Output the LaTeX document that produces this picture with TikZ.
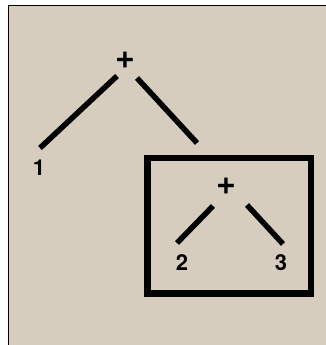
\documentclass[tikz,border=0pt]{standalone}
\usepackage{fontspec}
\setmainfont{TeX Gyre Heros}
\usepackage{tikz}
\definecolor{paper}{RGB}{214,205,190}
\tikzset{x=1pt, y=1pt,
  leaf/.style={font=\fontsize{22}{22}\selectfont\bfseries, inner sep=0pt},
  op/.style={font=\fontsize{34}{34}\selectfont\bfseries, inner sep=0pt},
  branch/.style={line width=5.5pt},
  frame/.style={line width=6.5pt}}

\begin{document}
\begin{tikzpicture}
\useasboundingbox (0,0) rectangle (326,345);
\fill[paper] (8,0) rectangle (326,339);
\draw[line width=1pt] (8,0) -- (8,339) -- (326,339);

\node[op]   (top)   at (125,285) {+};
\node[leaf] (one)   at (39,177)  {1};
\node[op]   (inner) at (226,159) {+};
\node[leaf] (two)   at (182,82)  {2};
\node[leaf] (three) at (281,82)  {3};

% ends of the branches
\coordinate (top-l) at (117,269);
\coordinate (one-t) at (40,197);
\coordinate (top-r) at (137,267);
\coordinate (box-t) at (197,202);
\coordinate (in-l)  at (213,139);
\coordinate (two-t) at (177,102);
\coordinate (in-r)  at (247,140);
\coordinate (three-t) at (283,101);

\draw[branch] (top-l) -- (one-t);
\draw[branch] (top-r) -- (box-t);
\draw[branch] (in-l) -- (two-t);
\draw[branch] (in-r) -- (three-t);

\draw[frame] (147.25,51.25) rectangle (310.75,186.75);
\end{tikzpicture}
\end{document}
